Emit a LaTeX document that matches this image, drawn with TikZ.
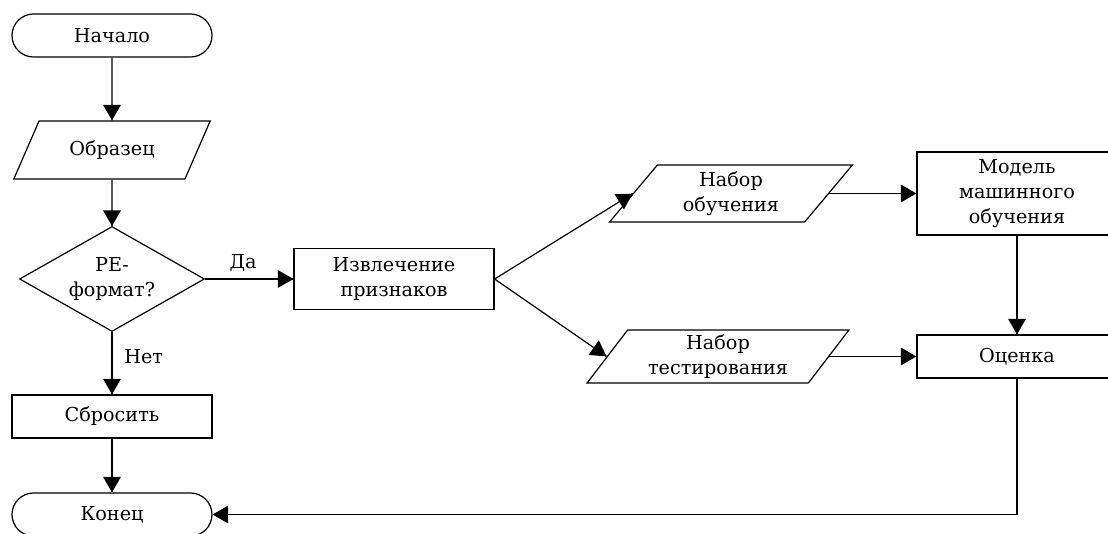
\documentclass[tikz,border=0pt]{standalone}
\usepackage{fontspec}
\setmainfont{DejaVu Serif}
\usetikzlibrary{arrows}
\usetikzlibrary{decorations.markings}
\usetikzlibrary{shapes.geometric}
\tikzset{flow/.style = {decoration={markings,
                                    mark=at position 1 with {\arrow[scale=1.3]{triangle 60}}},
                        postaction={decorate}}}
\tikzset{terminal/.style = {draw, rectangle, rounded corners=10.75pt,
                            minimum width=100pt, minimum height=21.5pt},
         process/.style = {draw, rectangle, minimum width=100pt, align=center},
         inout/.style = {draw, trapezium, trapezium left angle=56, trapezium right angle=124,
                         trapezium stretches=true, inner sep=1pt, align=center},
         decision/.style = {draw, diamond, aspect=1.76, inner sep=1pt, align=center}}

\begin{document}
\begin{tikzpicture}[x=0.5pt, y=-0.5pt, line width=0.6pt, font=\fontsize{9.6}{12.5}\selectfont]
    \useasboundingbox (0, 0) rectangle (1108, 534);
    \clip (0, 0) rectangle (1108, 534);

    \node [terminal] (start) at (112, 35.5) {Начало};
    \node [inout, minimum width=98.5pt, minimum height=29pt] (sample) at (112, 150) {Образец};
    \node [decision, minimum width=92.5pt, minimum height=52.5pt] (check) at (112, 279) {PE-\\формат?};
    \node [process, minimum height=30.5pt] (extract) at (394, 279) {Извлечение\\признаков};
    \node [process, minimum height=21.5pt] (drop) at (112, 416.5) {Сбросить};
    \node [terminal] (stop) at (112, 514.5) {Конец};
    \node [inout, minimum width=121.5pt, minimum height=28.5pt] (train) at (731, 193.5) {Набор\\обучения};
    \node [inout, minimum width=131pt, minimum height=26.5pt] (test) at (718, 356.5) {Набор\\тестирования};
    \node [process, minimum height=41.5pt] (model) at (1017, 193.5) {Модель\\машинного\\обучения};
    \node [process, minimum height=21.5pt] (eval) at (1017, 356.5) {Оценка};

    \draw [flow] (start) -- (sample);
    \draw [flow] (sample) -- (check);
    \draw [flow] (check) -- node [above, pos=0.43] (yes) {Да} (extract);
    \draw [flow] (check) -- node [right, pos=0.4, xshift=2.5pt] (no) {Нет} (drop);
    \draw [flow] (drop) -- (stop);
    \draw [flow] (extract.east) -- (train.left side);
    \draw [flow] (extract.east) -- (test.left side);
    \draw [flow] (train.right side) -- (model);
    \draw [flow] (test.right side) -- (eval);
    \draw [flow] (model) -- (eval);
    \draw [flow] (eval) |- (stop);
\end{tikzpicture}
\end{document}
